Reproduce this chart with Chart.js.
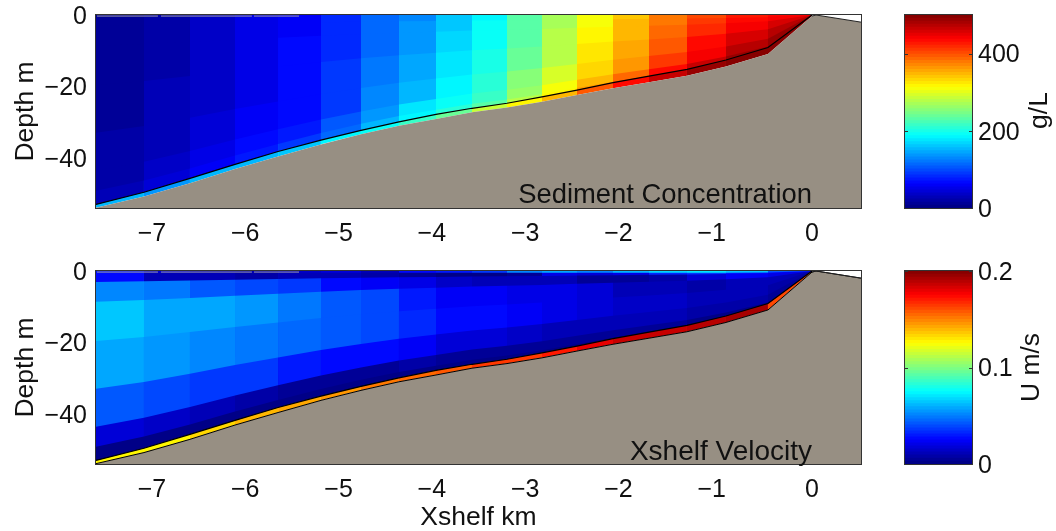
<!DOCTYPE html>
<html>
<head>
<meta charset="utf-8">
<script src="https://cdn.jsdelivr.net/npm/chart.js@4"></script>
<style>
  html, body { margin: 0; padding: 0; background: #fff; width: 1056px; height: 531px; overflow: hidden; }
  canvas { position: absolute; }
</style>
</head>
<body>
<canvas id="sedChart" width="890" height="250" style="left:0;top:0"></canvas>
<canvas id="sedBar" width="166" height="250" style="left:890px;top:0"></canvas>
<canvas id="velChart" width="890" height="275" style="left:0;top:256px"></canvas>
<canvas id="velBar" width="166" height="275" style="left:890px;top:256px"></canvas>
<script>
// grid column edges, km from the shoreline
const xNodes = [-7.674, -7.160, -6.667, -6.184, -5.723, -5.263, -4.834, -4.427, -4.030, -3.644,
  -3.269, -2.894, -2.519, -2.133, -1.747, -1.340, -0.922, -0.472, 0]
// seabed depth at those edges, m
const bedDepth = [53.9, 50.8, 47.1, 43.1, 39.6, 36.2, 33.4, 31.0, 29.1, 27.2,
  25.9, 24.3, 22.4, 20.5, 18.8, 17.0, 14.4, 10.9, 0.3]
// black line just above the bed, m
const lineDepth = [53.0, 49.6, 45.7, 41.8, 38.2, 35.0, 32.3, 29.9, 27.8, 26.1,
  24.7, 22.9, 21.0, 18.9, 17.1, 15.2, 12.6, 9.1, 0]
// dry part of the profile past the shoreline
const beachX = [0, 0.043, 0.525]
const beachDepth = [0.3, 0, 2.0]
// layer bottoms as a fraction of the water column, the first one is a thin skin
const skinDepth = 0.5
const layerFrac = [0.04, 0.057, 0.16, 0.363, 0.611, 0.808, 0.912]
// grey bits along the top of the axes
const surfaceX = [-7.663, -7.010, null, -6.978, -6.003, null, -5.981, -5.498]

// one row per column, top layer first, g/L
const sediment = [
  [10, 10, 10, 11, 13, 16, 19, 24, 150],
  [22, 22, 22, 23, 26, 29, 33, 40, 140],
  [35, 35, 35, 36, 39, 43, 49, 55, 150],
  [50, 50, 50, 51, 54, 58, 65, 72, 155],
  [60, 61, 62, 63, 65, 68, 76, 88, 160],
  [80, 81, 82, 84, 88, 93, 102, 115, 185],
  [110, 110, 111, 113, 118, 125, 140, 150, 195],
  [132, 132, 133, 137, 143, 152, 172, 185, 215],
  [160, 160, 162, 166, 172, 182, 195, 205, 240],
  [187, 187, 188, 192, 198, 205, 218, 232, 285],
  [228, 228, 230, 234, 240, 250, 262, 275, 320],
  [268, 268, 270, 274, 280, 290, 305, 315, 345],
  [310, 310, 312, 316, 322, 330, 345, 360, 395],
  [342, 342, 345, 348, 355, 365, 385, 410, 435],
  [376, 376, 378, 385, 395, 410, 430, 445, 465],
  [402, 404, 408, 418, 430, 445, 462, 480, 490],
  [425, 427, 432, 442, 455, 470, 485, 497, 500],
  [437, 440, 445, 455, 470, 485, 495, 500, 500]
]
// same layout, m/s
const velocity = [
  [.030, .026, .0505, .0652, .0574, .0426, .0185, .003, .125],
  [.017, .012, .047, .059, .054, .039, .015, .001, .128],
  [.012, .010, .0426, .0574, .0524, .0368, .010, .001, .134],
  [.012, .008, .0397, .0544, .0495, .0348, .008, .002, .138],
  [.015, .010, .0368, .0495, .0466, .0309, .006, .002, .142],
  [.018, .012, .027, .0415, .042, .028, .005, .001, .146],
  [.012, .008, .022, .0387, .0397, .028, .004, .001, .152],
  [.025, .004, .020, .031, .033, .022, .008, .001, .155],
  [.031, .002, .0125, .024, .028, .018, .004, .001, .159],
  [.037, .003, .010, .022, .025, .016, .004, .001, .163],
  [.052, .006, .011, .021, .022, .014, .004, .001, .165],
  [.058, .020, .010, .019, .020, .012, .004, .001, .171],
  [.050, .018, .006, .016, .018, .012, .004, .001, .180],
  [.060, .021, .006, .011, .014, .011, .004, .001, .185],
  [.068, .033, .008, .011, .013, .010, .004, .001, .187],
  [.070, .035, .016, .008, .010, .009, .003, .001, .190],
  [.064, .031, .022, .012, .010, .008, .003, .001, .192],
  [.041, .025, .020, .011, .009, .006, .002, .001, .161]
]

const bedColor = '#978f83'
const tickFont = { family: 'Liberation Sans', size: 25 }
const labelFont = { family: 'Liberation Sans', size: 26.5 }
const nLevels = 64

// matlab jet, v from 0 to 1
function jet(v) {
  const lvl = Math.min(nLevels - 1, Math.floor(v * nLevels))
  const t = (lvl + 0.5) / nLevels
  const c = (d) => Math.round(255 * Math.max(0, Math.min(1, 1.5 - Math.abs(4 * t - d))))
  return 'rgb(' + c(3) + ',' + c(2) + ',' + c(1) + ')'
}

function xyData(xs, depths) {
  return xs.map((x, i) => ({ x: x, y: depths[i] === null ? null : -depths[i] }))
}

// depth of the bottom of layer k
function layerBottom(k) {
  if (k === layerFrac.length) return lineDepth
  if (k > layerFrac.length) return bedDepth
  if (k === 0) return bedDepth.map((d) => Math.min(d * layerFrac[0], skinDepth))
  return bedDepth.map((d, i) => Math.min(d * layerFrac[k], lineDepth[i]))
}

// keep the plot box where it is, whatever the tick labels want
function noMargins(scale) {
  scale.paddingTop = 0
  scale.paddingBottom = 0
  scale.paddingLeft = 0
  scale.paddingRight = 0
}

const frameBox = {
  id: 'frameBox',
  afterDraw(chart, args, opts) {
    const a = chart.chartArea
    const ctx = chart.ctx
    ctx.save()
    ctx.strokeStyle = '#333'
    ctx.lineWidth = 1
    ctx.strokeRect(a.left - 0.5, a.top - 0.5, a.right - a.left + 1, a.bottom - a.top + 1)
    if (opts.ticks) {
      chart.scales.y.ticks.forEach((t) => {
        const py = Math.round(chart.scales.y.getPixelForValue(t.value)) + 0.5
        ctx.beginPath()
        ctx.moveTo(a.left, py); ctx.lineTo(a.left + 3, py)
        ctx.moveTo(a.right - 3, py); ctx.lineTo(a.right, py)
        ctx.stroke()
      })
    }
    if (opts.text) {
      ctx.fillStyle = '#111'
      ctx.font = opts.textSize + 'px "Liberation Sans"'
      ctx.textAlign = 'right'
      ctx.textBaseline = 'middle'
      ctx.fillText(opts.text, chart.scales.x.getPixelForValue(opts.textX), chart.scales.y.getPixelForValue(opts.textY))
    }
    if (opts.side) {
      ctx.fillStyle = '#111'
      ctx.font = labelFont.size + 'px "Liberation Sans"'
      ctx.textAlign = 'center'
      ctx.textBaseline = 'middle'
      ctx.translate(opts.sideX, (a.top + a.bottom) / 2 + opts.sideDy)
      ctx.rotate(-Math.PI / 2)
      ctx.fillText(opts.side, 0, 0)
    }
    ctx.restore()
  }
}

function makePanel(id, values, vMax, text, textSize, withAxisTitle, bedLine, canvasH) {
  const datasets = []
  // grey surface bits
  datasets.push({
    data: surfaceX.map((x) => ({ x: x === null ? -7 : x, y: x === null ? null : -0.3 })),
    borderColor: '#9a98a6', borderWidth: 1, pointRadius: 0, fill: false
  })
  // black line over the bed layer
  datasets.push({
    data: xyData(xNodes, lineDepth), borderColor: '#000', borderWidth: 1.2, pointRadius: 0, fill: false
  })
  datasets.push({
    data: xyData(beachX, beachDepth), borderColor: '#222', borderWidth: 1, pointRadius: 0, fill: false
  })
  // the seabed
  datasets.push({
    data: xyData(xNodes.concat(beachX.slice(1)), bedDepth.concat(beachDepth.slice(1))),
    borderColor: bedLine, borderWidth: 1, pointRadius: 0, fill: 'start', backgroundColor: bedColor
  })
  // the layers, each filled up to the surface so the upper ones paint over it
  for (let k = 0; k < values[0].length; k++) {
    datasets.push({
      data: xyData(xNodes, layerBottom(k)),
      borderWidth: 0, borderColor: 'transparent', pointRadius: 0, fill: 'end',
      backgroundColor: jet(values[0][k] / vMax),
      segment: {
        backgroundColor: (ctx) => jet(values[ctx.p0DataIndex][k] / vMax)
      }
    })
  }
  return new Chart(document.getElementById(id), {
    type: 'line',
    data: { datasets: datasets },
    plugins: [frameBox],
    options: {
      responsive: false,
      animation: false,
      layout: { padding: { top: 15, right: 29, left: 0, bottom: 0 } },
      scales: {
        x: {
          type: 'linear', min: -7.674, max: 0.525,
          grid: { display: false, drawTicks: false }, border: { display: false },
          ticks: {
            stepSize: 1, includeBounds: false, autoSkip: false, maxRotation: 0, padding: 11,
            color: '#111', font: tickFont,
            callback: (v) => (v === 0 ? '0' : '\u2212' + Math.abs(v) + '  ')
          },
          title: { display: withAxisTitle, text: 'Xshelf km', color: '#111', font: labelFont, padding: { top: 0, bottom: -3 } },
          afterFit(scale) { noMargins(scale); scale.height = canvasH - 208 }
        },
        y: {
          min: -54, max: 0,
          grid: { display: false, drawTicks: false }, border: { display: false },
          ticks: {
            stepSize: 20, includeBounds: false, padding: 9, labelOffset: 2, color: '#111', font: tickFont,
            callback: (v) => (v === 0 ? '0' : '\u2212' + Math.abs(v))
          },
          title: { display: true, text: 'Depth m', color: '#111', font: labelFont, padding: { top: 10, bottom: 0 } },
          afterFit(scale) { noMargins(scale); scale.width = 96 }
        }
      },
      plugins: {
        legend: { display: false },
        tooltip: { enabled: false },
        frameBox: { text: text, textSize: textSize, textX: 0, textY: -50.6 }
      }
    }
  })
}

function makeBar(id, vMax, stepSize, side, sideX, sideDy, canvasH) {
  const datasets = []
  for (let i = 0; i < nLevels; i++) {
    datasets.push({
      data: [[0, (i + 1) / nLevels * vMax]],
      backgroundColor: jet((i + 0.5) / nLevels),
      barPercentage: 1, categoryPercentage: 1, grouped: false
    })
  }
  return new Chart(document.getElementById(id), {
    type: 'bar',
    data: { labels: [''], datasets: datasets },
    plugins: [frameBox],
    options: {
      responsive: false,
      animation: false,
      layout: { padding: { top: 15, left: 15, right: 0, bottom: canvasH - 208 } },
      scales: {
        x: { display: false },
        y: {
          position: 'right', min: 0, max: vMax,
          grid: { display: false, drawTicks: false }, border: { display: false },
          ticks: {
            stepSize: stepSize, includeBounds: false, padding: 6, labelOffset: 2, color: '#111', font: tickFont,
            callback: (v) => String(+v.toFixed(1))
          },
          afterFit(scale) { noMargins(scale); scale.width = 84 }
        }
      },
      plugins: {
        legend: { display: false },
        tooltip: { enabled: false },
        frameBox: { ticks: true, side: side, sideX: sideX, sideDy: sideDy }
      }
    }
  })
}

makePanel('sedChart', sediment, 500, 'Sediment Concentration', 27.4, false, 'transparent', 250)
makeBar('sedBar', 500, 200, 'g/L', 150, -1, 250)
makePanel('velChart', velocity, 0.2, 'Xshelf Velocity', 28, true, '#000', 275)
makeBar('velBar', 0.2, 0.1, 'U m/s', 142, 0, 275)
</script>
</body>
</html>
